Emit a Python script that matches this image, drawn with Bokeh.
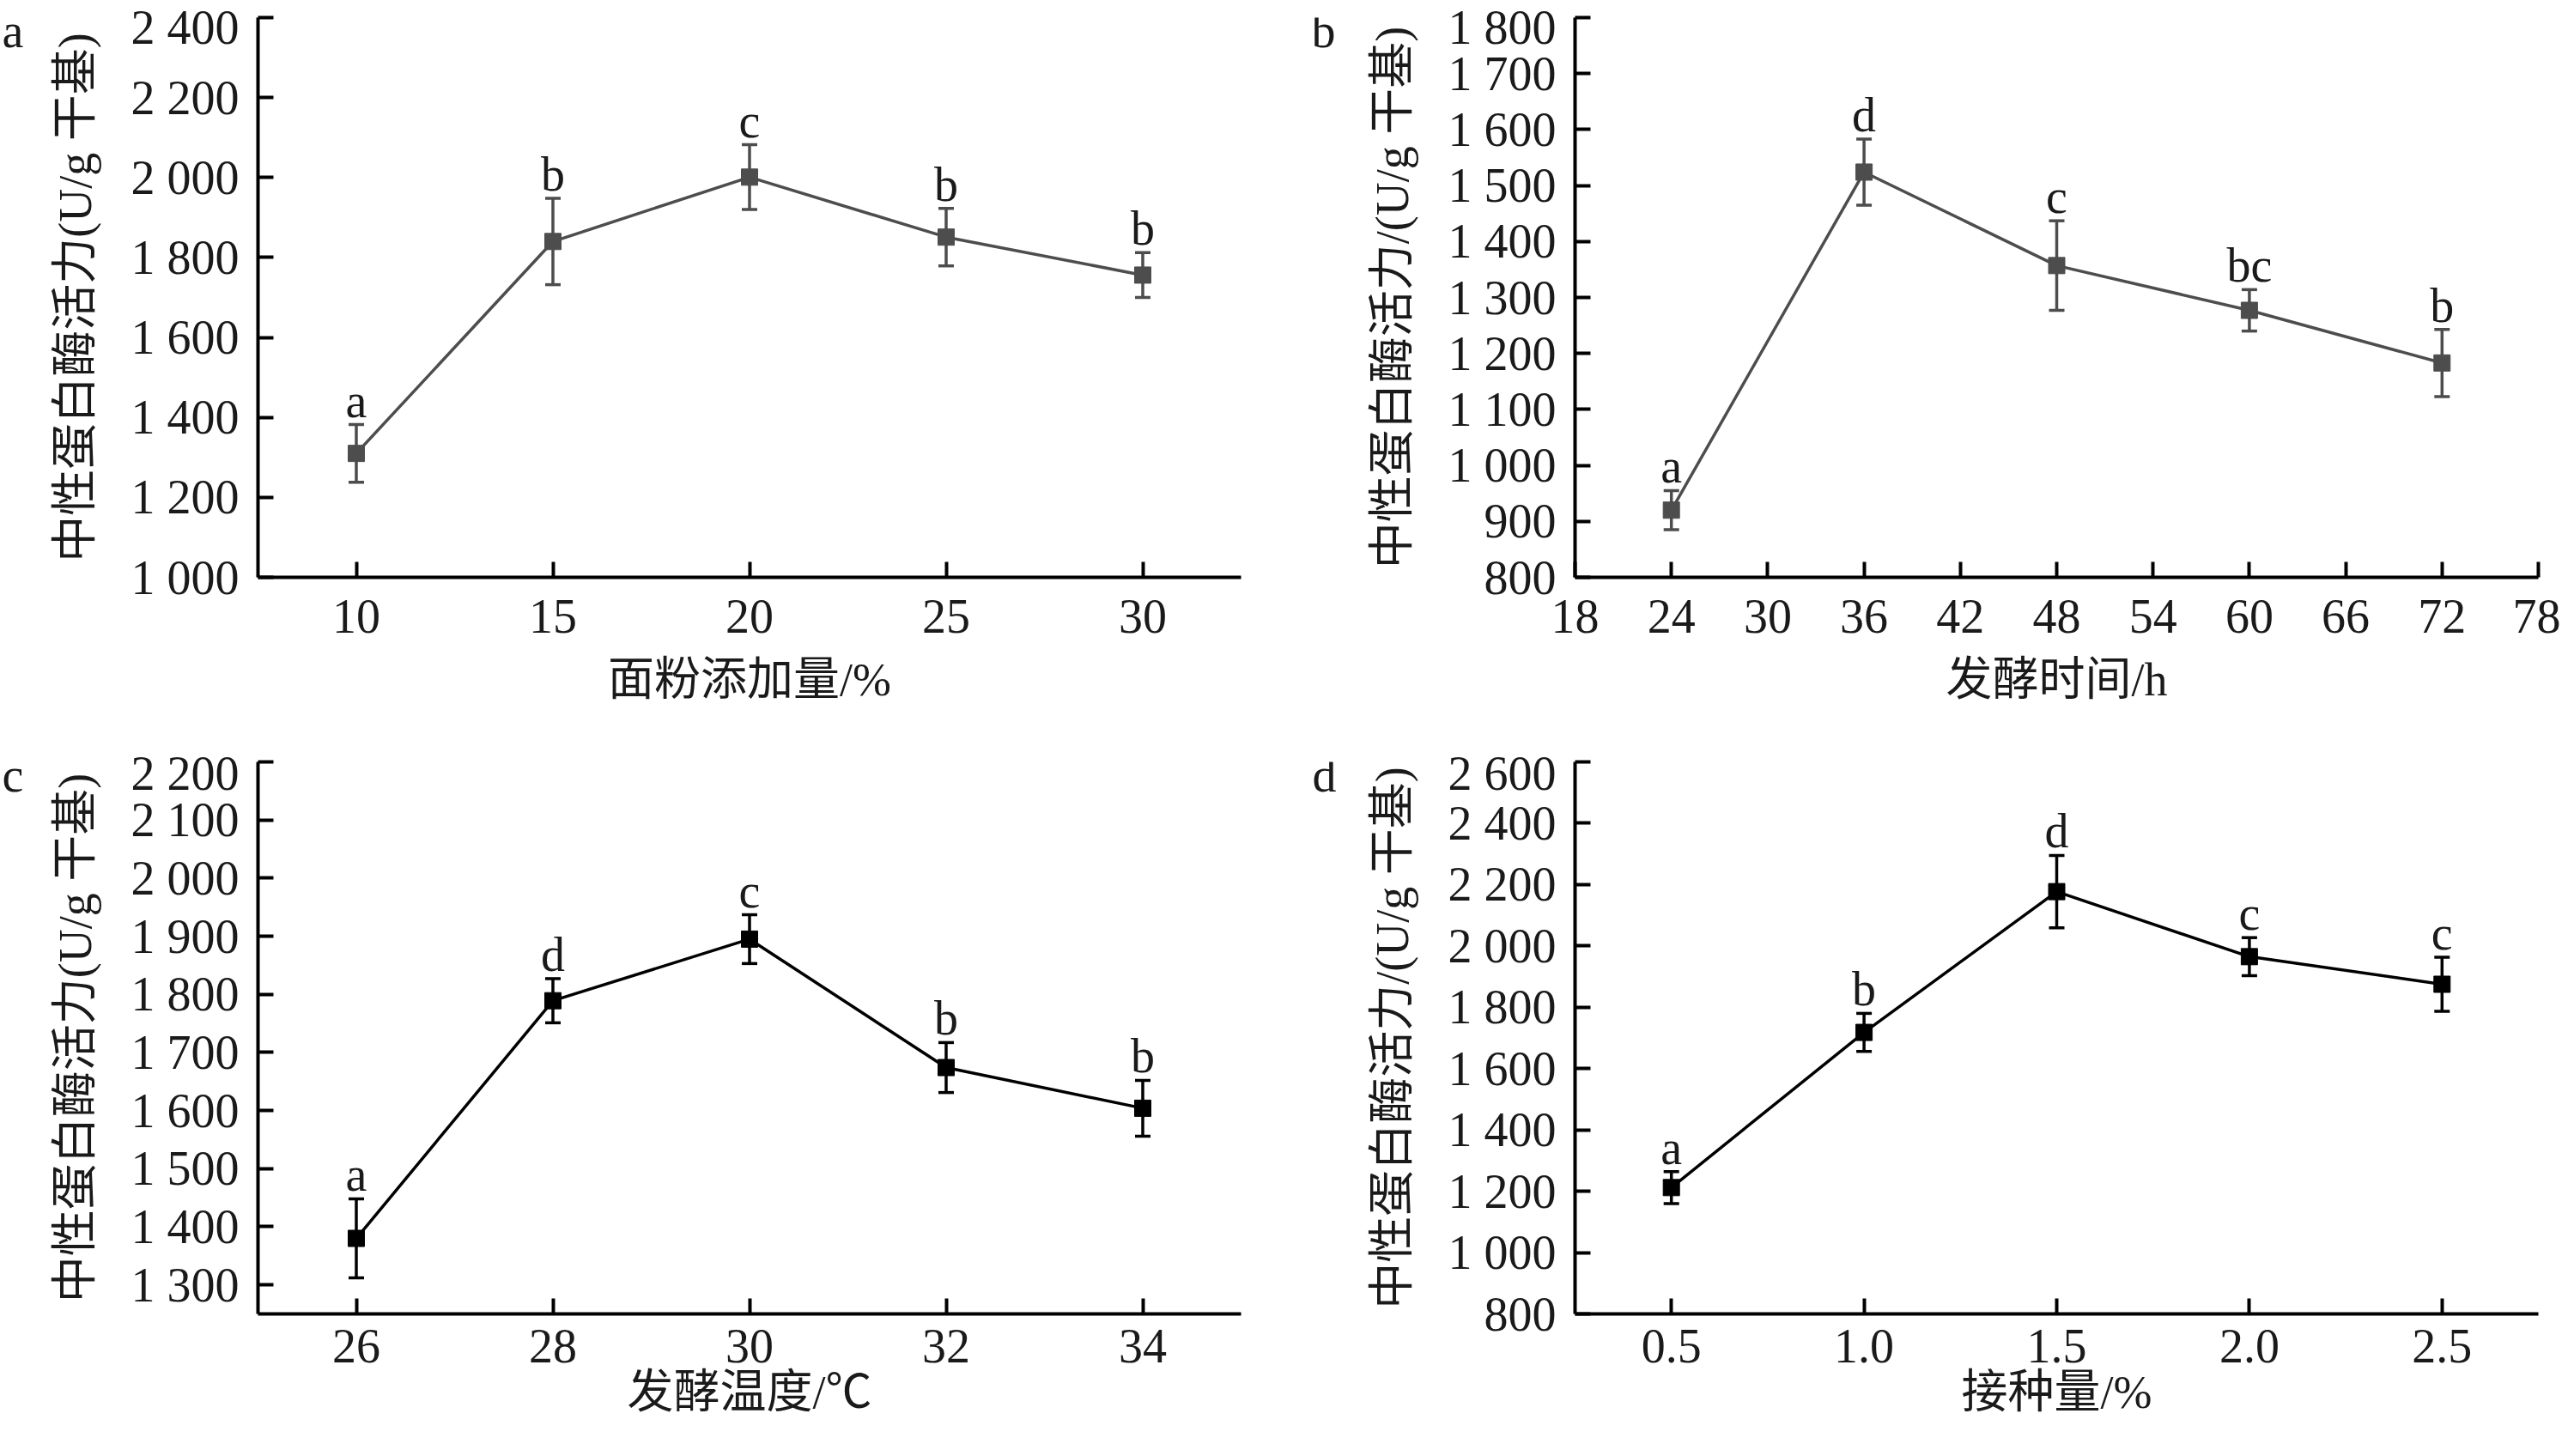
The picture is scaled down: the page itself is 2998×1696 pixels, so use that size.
from bokeh.plotting import figure
from bokeh.models import (ColumnDataSource, Range1d, FixedTicker, Whisker, TeeHead)
from bokeh.layouts import row, column
from bokeh.core.properties import value
from bokeh.embed import file_html
from bokeh.resources import INLINE

# ---------------- data ----------------
a_x = [10, 15, 20, 25, 30]
a_y = [1310, 1840, 2001, 1851, 1756]
a_err = [72, 108, 81, 72, 56]
a_sig = ["a", "b", "c", "b", "b"]
a_xticks = [10, 15, 20, 25, 30]
a_yticks = [1000, 1200, 1400, 1600, 1800, 2000, 2200, 2400]
a_ytick_labels = ["1 000", "1 200", "1 400", "1 600", "1 800", "2 000", "2 200", "2 400"]

b_x = [24, 36, 48, 60, 72]
b_y = [920, 1524, 1357, 1277, 1183]
b_err = [35, 59, 80, 37, 60]
b_sig = ["a", "d", "c", "bc", "b"]
b_xticks = [18, 24, 30, 36, 42, 48, 54, 60, 66, 72, 78]
b_yticks = [800, 900, 1000, 1100, 1200, 1300, 1400, 1500, 1600, 1700, 1800]
b_ytick_labels = ["800", "900", "1 000", "1 100", "1 200", "1 300", "1 400",
                  "1 500", "1 600", "1 700", "1 800"]

c_x = [26, 28, 30, 32, 34]
c_y = [1380, 1789, 1895, 1674, 1604]
c_err = [68, 38, 42, 43, 48]
c_sig = ["a", "d", "c", "b", "b"]
c_xticks = [26, 28, 30, 32, 34]
c_yticks = [1300, 1400, 1500, 1600, 1700, 1800, 1900, 2000, 2100, 2200]
c_ytick_labels = ["1 300", "1 400", "1 500", "1 600", "1 700", "1 800", "1 900",
                  "2 000", "2 100", "2 200"]

d_x = [0.5, 1.0, 1.5, 2.0, 2.5]
d_y = [1212, 1718, 2177, 1965, 1875]
d_err = [52, 62, 118, 62, 88]
d_sig = ["a", "b", "d", "c", "c"]
d_xticks = [0.5, 1.0, 1.5, 2.0, 2.5]
d_xtick_labels = ["0.5", "1.0", "1.5", "2.0", "2.5"]
d_yticks = [800, 1000, 1200, 1400, 1600, 1800, 2000, 2200, 2400, 2600]
d_ytick_labels = ["800", "1 000", "1 200", "1 400", "1 600", "1 800", "2 000",
                  "2 200", "2 400", "2 600"]

panel_letters = ["a", "b", "c", "d"]
ylabel_plain = "中性蛋白酶活力(U/g 干基)"
ylabel_slash = "中性蛋白酶活力/(U/g 干基)"

NUM_FONT = "'Liberation Serif', 'Noto Sans CJK SC'"
CJK_FONT = "'Liberation Serif', 'Noto Sans CJK SC'"
TICK_PX = "56px"
LAB_PX = "54px"
INK = "#1a1a1a"


def letter_fig(letter, width, height, lx, baseline):
    """narrow strip holding the panel letter (a, b, c, d)"""
    p = figure(width=width, height=height, output_backend="svg", toolbar_location=None,
               x_range=Range1d(0, width), y_range=Range1d(0, height),
               x_axis_location=None, y_axis_location=None,
               min_border_left=0, min_border_right=0, min_border_top=0,
               min_border_bottom=0)
    p.outline_line_color = None
    p.grid.visible = False
    p.background_fill_color = "white"
    p.border_fill_color = "white"
    src = ColumnDataSource(dict(x=[lx], y=[height - baseline], t=[letter]))
    p.text("x", "y", text="t", source=src, text_align="left",
           text_baseline="alphabetic", text_font=value("Liberation Serif"),
           text_font_size=TICK_PX, text_color=INK)
    return p


def panel(xs, ys, errs, sigs, xr, yr, xticks, yticks, ytick_labels, xlabel, ylabel,
          color, width, height, bl, br, bt, bb, xstand, lstand, xtick_labels=None):
    p = figure(width=width, height=height, output_backend="svg", toolbar_location=None,
               x_range=Range1d(*xr), y_range=Range1d(*yr),
               min_border_left=bl, min_border_right=br, min_border_top=bt,
               min_border_bottom=bb)
    p.outline_line_color = None
    p.grid.visible = False
    p.background_fill_color = "white"
    p.border_fill_color = "white"

    for ax in (p.xaxis[0], p.yaxis[0]):
        ax.axis_line_width = 4
        ax.axis_line_color = "black"
        ax.major_tick_line_width = 4
        ax.major_tick_line_color = "black"
        ax.major_tick_in = 18
        ax.major_tick_out = 0
        ax.minor_tick_line_color = None
        ax.major_label_text_font = NUM_FONT
        ax.major_label_text_font_size = TICK_PX
        ax.major_label_text_color = INK
        ax.axis_label_text_font = CJK_FONT
        ax.axis_label_text_font_size = LAB_PX
        ax.axis_label_text_font_style = "normal"
        ax.axis_label_text_color = INK

    p.xaxis.ticker = FixedTicker(ticks=xticks)
    p.yaxis.ticker = FixedTicker(ticks=yticks)
    p.yaxis.major_label_overrides = {t: s for t, s in zip(yticks, ytick_labels)}
    if xtick_labels is not None:
        p.xaxis.major_label_overrides = {t: s for t, s in zip(xticks, xtick_labels)}
    p.xaxis.major_label_standoff = xstand
    p.yaxis.major_label_standoff = 22
    p.xaxis.axis_label_standoff = lstand
    p.yaxis.axis_label_standoff = 32
    p.xaxis.axis_label = xlabel
    p.yaxis.axis_label = ylabel

    upper = [y + e for y, e in zip(ys, errs)]
    lower = [y - e for y, e in zip(ys, errs)]
    src = ColumnDataSource(dict(x=xs, y=ys, upper=upper, lower=lower, sig=sigs))

    p.line("x", "y", source=src, line_color=color, line_width=3.5)
    w = Whisker(base="x", upper="upper", lower="lower", source=src,
                line_color=color, line_width=3.5,
                upper_head=TeeHead(size=18, line_color=color, line_width=3.5),
                lower_head=TeeHead(size=18, line_color=color, line_width=3.5))
    p.add_layout(w)
    p.scatter("x", "y", source=src, marker="square", size=19,
              fill_color=color, line_color=color)
    p.text("x", "upper", text="sig", source=src, text_align="center",
           text_baseline="alphabetic", y_offset=-28,
           text_font=value("Liberation Serif"), text_font_size=TICK_PX,
           text_color=INK)
    return p


GRAY = "#4d4d4d"
BLACK = "#000000"

H1, H2 = 869, 811

la = letter_fig(panel_letters[0], 40, H1, 2, 21)
fa = panel(a_x, a_y, a_err, a_sig, (7.5, 32.5), (1000, 2400), a_xticks, a_yticks,
           a_ytick_labels, "面粉添加量/%", ylabel_plain, GRAY,
           1450, H1, 260, 45, 20, 197, 26, 22)
lb = letter_fig(panel_letters[1], 70, H1, 37, 21)
fb = panel(b_x, b_y, b_err, b_sig, (18, 78), (800, 1800), b_xticks, b_yticks,
           b_ytick_labels, "发酵时间/h", ylabel_slash, GRAY,
           1422, H1, 274, 26, 20, 197, 26, 22)

lc = letter_fig(panel_letters[2], 40, H2, 2, 20)
fc = panel(c_x, c_y, c_err, c_sig, (25, 35), (1250, 2200), c_xticks, c_yticks,
           c_ytick_labels, "发酵温度/℃", ylabel_plain, BLACK,
           1450, H2, 260, 45, 18, 150, 18, 2)
ld = letter_fig(panel_letters[3], 70, H2, 38, 20)
fd = panel(d_x, d_y, d_err, d_sig, (0.25, 2.75), (800, 2600), d_xticks, d_yticks,
           d_ytick_labels, "接种量/%", ylabel_slash, BLACK,
           1422, H2, 274, 26, 18, 150, 18, 2, xtick_labels=d_xtick_labels)

layout = column(row(la, fa, lb, fb, spacing=0),
                row(lc, fc, ld, fd, spacing=0), spacing=0)
open("out.html", "w").write(file_html(layout, INLINE))
